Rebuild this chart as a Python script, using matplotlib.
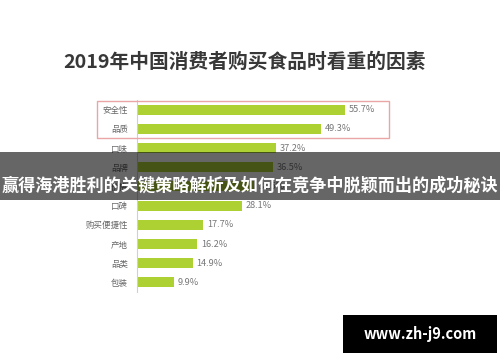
import numpy as np
import matplotlib
matplotlib.use('Agg')
import matplotlib.pyplot as plt
from matplotlib.patches import Rectangle

plt.rcParams['font.family'] = ['Noto Sans CJK SC', 'DejaVu Sans']

# 数据（从图中读取，第5项被横幅遮住，数值为估计）
factors = ['安全性', '品质', '口味', '品牌', '价格', '口碑', '购买便捷性', '产地', '品类', '包装']
shares = [55.7, 49.3, 37.2, 36.5, 31.5, 28.1, 17.7, 16.2, 14.9, 9.9]

title = '2019年中国消费者购买食品时看重的因素'
banner = '赢得海港胜利的关键策略解析及如何在竞争中脱颖而出的成功秘诀'
site = 'www.zh-j9.com'

W, H = 500, 362
fig = plt.figure(figsize=(W / 100, H / 100), dpi=100)

def fx(px):
    return px / W

def fy(py):
    return 1 - py / H

ax = fig.add_axes([fx(137), fy(292), fx(300), 192 / H])
y = np.arange(len(factors))
ax.barh(y, shares, height=0.53, color='#add132')
for yi, v in zip(y, shares):
    ax.text(v + 1.0, yi, f'{v}%', va='center', ha='left', fontsize=6.6, color='#777777')
ax.set_ylim(len(factors) - 0.5, -0.5)
ax.set_xlim(0, 300 / 3.73)
ax.set_yticks(y)
ax.set_yticklabels(factors, fontsize=6.1, color='#666666')
ax.tick_params(axis='y', length=0, pad=6.5)
ax.set_xticks([])
for s in ['top', 'right', 'bottom']:
    ax.spines[s].set_visible(False)
ax.spines['left'].set_color('#d0d0d0')
ax.spines['left'].set_linewidth(0.8)

# 标题
fig.text(0.49, fy(62), title, ha='center', va='center', fontsize=14.2,
         fontweight='bold', color='#383838')

# 红框
fig.patches.append(Rectangle((fx(97), fy(138)), fx(292), 37 / H, transform=fig.transFigure,
                             fill=False, edgecolor='#eaa6a6', linewidth=1.0))

# 半透明横幅
fig.patches.append(Rectangle((0, fy(200)), 1, 48 / H, transform=fig.transFigure,
                             facecolor='black', alpha=0.6, edgecolor='none', zorder=5))
fig.text(0.5, fy(186), banner, ha='center', va='center', fontsize=12.3,
         fontweight='bold', color='white', zorder=6)

# 水印
fig.patches.append(Rectangle((fx(343), fy(353)), fx(154), 38 / H, transform=fig.transFigure,
                             facecolor='black', edgecolor='none', zorder=5))
fig.text(fx(420), fy(334), site, ha='center', va='center', fontsize=10.5,
         fontweight='bold', color='white', zorder=6)

fig.savefig('out.png', dpi=100)
